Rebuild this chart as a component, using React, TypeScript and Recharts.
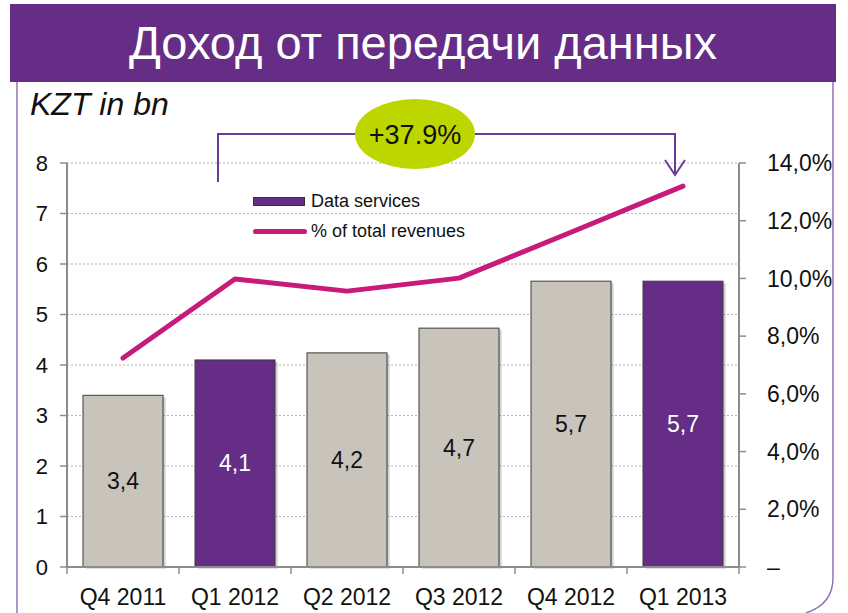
import { ComposedChart, Bar, Line, XAxis, YAxis, CartesianGrid, Legend, LabelList, Cell } from 'recharts';

const quarters = ['Q4 2011', 'Q1 2012', 'Q2 2012', 'Q3 2012', 'Q4 2012', 'Q1 2013'];
const dataServices = [3.4, 4.1, 4.24, 4.73, 5.66, 5.66];
const shareOfRevenues = [7.24, 9.98, 9.56, 10.01, 11.6, 13.2];
const highlighted = [false, true, false, false, false, true];
const leftTicks = [0, 1, 2, 3, 4, 5, 6, 7, 8];
const rightTicks = [0, 2, 4, 6, 8, 10, 12, 14];
const growthLabel = '+37.9%';

const PURPLE = '#652D86';
const GREY = '#C8C4BC';
const MAGENTA = '#C71B7B';
const LIME = '#BED600';
const SANS = "'Liberation Sans', Arial, sans-serif";

const W = 848;
const H = 613;
const PLOT_LEFT = 67;
const PLOT_RIGHT = 739;
const PLOT_TOP = 163;
const PLOT_BOTTOM = 567;
const HALF_BAND = (PLOT_RIGHT - PLOT_LEFT) / quarters.length / 2;

const rows = quarters.map((q, i) => ({
  quarter: q,
  data: dataServices[i],
  share: shareOfRevenues[i],
  hl: highlighted[i],
}));

const fmtNum = (v: number) => v.toFixed(1).replace('.', ',');

function BarShape(props: any) {
  const { x, y, width, height, fill } = props;
  if (height <= 0) return null;
  return (
    <g>
      <rect x={x + 3} y={y + 2} width={width} height={height} fill="#000" opacity={0.12} />
      <rect x={x + 1.5} y={y + 1} width={width} height={height} fill="#000" opacity={0.1} />
      <rect x={x} y={y} width={width} height={height} fill={fill} stroke="#3c3c3c" strokeWidth={1} />
    </g>
  );
}

function BarLabel(props: any) {
  const { x, y, width, height, value, index } = props;
  return (
    <text
      x={x + width / 2}
      y={y + height / 2}
      textAnchor="middle"
      dominantBaseline="central"
      fontFamily={SANS}
      fontSize={23}
      fill={highlighted[index] ? '#fff' : '#111'}
    >
      {fmtNum(value)}
    </text>
  );
}

// tick marks sit on the category boundaries, labels in the middle
function XTick(props: any) {
  const { x, y, payload, index } = props;
  return (
    <g>
      <line x1={x - HALF_BAND} x2={x - HALF_BAND} y1={y} y2={y + 7} stroke="#8c8c8c" strokeWidth={1.5} />
      {index === quarters.length - 1 && (
        <line x1={x + HALF_BAND} x2={x + HALF_BAND} y1={y} y2={y + 7} stroke="#8c8c8c" strokeWidth={1.5} />
      )}
      <text x={x} y={y + 30} textAnchor="middle" dominantBaseline="central" fontFamily={SANS} fontSize={23} fill="#111">
        {payload.value}
      </text>
    </g>
  );
}

function LegendBox() {
  return (
    <div style={{ fontFamily: SANS, fontSize: 18, color: '#111', lineHeight: '30px' }}>
      <div style={{ display: 'flex', alignItems: 'center' }}>
        <span style={{ display: 'inline-block', width: 50, height: 7, background: PURPLE, border: '1px solid #333', marginRight: 6 }} />
        Data services
      </div>
      <div style={{ display: 'flex', alignItems: 'center' }}>
        <span style={{ display: 'inline-block', width: 54, height: 5, background: MAGENTA, borderRadius: 3, marginRight: 4 }} />
        % of total revenues
      </div>
    </div>
  );
}

export default function App() {
  return (
    <div style={{ position: 'absolute', left: 0, top: 0, width: W, height: H, background: '#fff', overflow: 'hidden' }}>
      <div
        style={{
          position: 'absolute',
          left: 10,
          top: 4,
          width: 826,
          height: 78,
          background: PURPLE,
          color: '#fff',
          fontFamily: SANS,
          fontSize: 47,
          lineHeight: '78px',
          textAlign: 'center',
        }}
      >
        Доход от передачи данных
      </div>
      <div style={{ position: 'absolute', left: 30, top: 86, fontFamily: SANS, fontStyle: 'italic', fontSize: 32, color: '#111' }}>
        KZT in bn
      </div>
      <div style={{ position: 'absolute', left: 0, top: 0 }}>
        <ComposedChart
          width={W}
          height={H}
          data={rows}
          margin={{ top: PLOT_TOP, right: 0, bottom: 0, left: 0 }}
          barCategoryGap={16}
        >
          <CartesianGrid yAxisId="left" vertical={false} stroke="#b5b5b5" strokeDasharray="2 2" />
          <XAxis
            dataKey="quarter"
            height={H - PLOT_BOTTOM}
            tickLine={false}
            tickSize={0}
            tickMargin={0}
            axisLine={{ stroke: '#8c8c8c', strokeWidth: 2 }}
            tick={<XTick />}
            interval={0}
          />
          <YAxis
            yAxisId="left"
            width={PLOT_LEFT}
            domain={[0, 8]}
            ticks={leftTicks}
            interval={0}
            tickSize={7}
            tickMargin={12}
            tickLine={{ stroke: '#8c8c8c', strokeWidth: 1.5 }}
            axisLine={{ stroke: '#8c8c8c', strokeWidth: 2 }}
            tick={{ fontFamily: SANS, fontSize: 22, fill: '#111' }}
          />
          <YAxis
            yAxisId="right"
            orientation="right"
            width={W - PLOT_RIGHT}
            domain={[0, 14]}
            ticks={rightTicks}
            interval={0}
            tickSize={7}
            tickMargin={21}
            tickLine={{ stroke: '#8c8c8c', strokeWidth: 1.5 }}
            axisLine={{ stroke: '#8c8c8c', strokeWidth: 2 }}
            tick={{ fontFamily: SANS, fontSize: 23, fill: '#111', textAnchor: 'start' }}
            tickFormatter={(v: number) => (v === 0 ? '–' : fmtNum(v) + '%')}
          />
          <Legend
            layout="vertical"
            align="center"
            verticalAlign="middle"
            content={() => <LegendBox />}
            wrapperStyle={{ position: 'absolute', left: 253, top: 186, width: 260 }}
          />
          <Bar yAxisId="left" dataKey="data" name="Data services" shape={<BarShape />} isAnimationActive={false}>
            {rows.map((r, i) => (
              <Cell key={i} fill={r.hl ? PURPLE : GREY} />
            ))}
            <LabelList dataKey="data" content={<BarLabel />} />
          </Bar>
          <Line
            yAxisId="right"
            dataKey="share"
            name="% of total revenues"
            type="linear"
            stroke={MAGENTA}
            strokeWidth={5}
            strokeLinecap="round"
            strokeLinejoin="round"
            dot={false}
            activeDot={false}
            isAnimationActive={false}
          />
        </ComposedChart>
      </div>
      <svg style={{ position: 'absolute', left: 0, top: 0 }} width={W} height={H}>
        <path d="M17 82 V613" stroke="#9274B4" strokeWidth={1.5} fill="none" />
        <path d="M833 82 V578 Q833 604 806 613" stroke="#9274B4" strokeWidth={1.5} fill="none" />
        <path d="M218 182 V134 H675 V174" stroke="#6B3A99" strokeWidth={2} fill="none" />
        <path d="M665 160 L675 175 L685 160" stroke="#6B3A99" strokeWidth={2} fill="none" />
        <ellipse cx={415} cy={134} rx={60} ry={35} fill={LIME} />
        <text x={415} y={135} textAnchor="middle" dominantBaseline="central" fontFamily={SANS} fontSize={27} fill="#111">
          {growthLabel}
        </text>
      </svg>
    </div>
  );
}
